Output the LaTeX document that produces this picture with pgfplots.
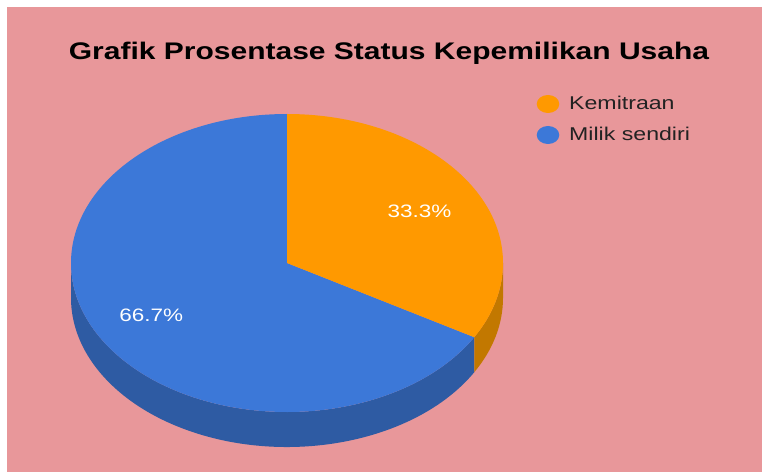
\documentclass[border=0pt]{standalone}
\usepackage{fontspec}
\setmainfont{Liberation Sans}
\newfontfamily\chartfont[FakeStretch=1.25]{Liberation Sans}
\usepackage{pgfplots}
\usepackage{pgfplotstable}
\pgfplotsset{compat=1.18}
\definecolor{bgpink}{HTML}{E8979A}
\definecolor{orangeT}{HTML}{FF9900}
\definecolor{orangeS}{HTML}{C27800}
\definecolor{blueT}{HTML}{3C78D8}
\definecolor{blueS}{HTML}{2E5BA3}
\definecolor{legtext}{HTML}{222222}
\pgfplotstableread{
label value
Kemitraan 33.3
Milik 66.7
}\piedata
\begin{document}
\begin{tikzpicture}
\pgfplotstablegetelem{0}{value}\of\piedata \let\va\pgfplotsretval
\pgfplotstablegetelem{1}{value}\of\piedata \let\vb\pgfplotsretval
\pgfmathsetmacro\angA{90-360*\va/(\va+\vb)}
\pgfmathsetmacro\angB{\angA+360}
\begin{axis}[
  width=762pt, height=472pt, scale only axis,
  xmin=0, xmax=762, ymin=0, ymax=472,
  enlargelimits=false, hide axis, clip=false]
% background
\fill[white] (axis cs:0,0) rectangle (axis cs:762,472);
\fill[bgpink] (axis cs:7,0) rectangle (axis cs:762,465);
% sides
\fill[blueS] (axis cs:71,209) arc[start angle=180,end angle=\angB,x radius=216pt,y radius=149pt]
   -- ++(0,-35pt) arc[start angle=\angB,end angle=180,x radius=216pt,y radius=149pt] -- cycle;
\fill[orangeS] (axis cs:503,209) arc[start angle=360,end angle=\angB,x radius=216pt,y radius=149pt]
   -- ++(0,-35pt) arc[start angle=\angB,end angle=360,x radius=216pt,y radius=149pt] -- cycle;
% tops
\fill[blueT] (axis cs:287,209) -- (axis cs:287,358) arc[start angle=90,end angle=\angB,x radius=216pt,y radius=149pt] -- cycle;
\fill[orangeT] (axis cs:287,209) -- (axis cs:287,358) arc[start angle=90,end angle=\angA,x radius=216pt,y radius=149pt] -- cycle;
% labels
\node[anchor=base, white, font=\chartfont\fontsize{18}{20}\selectfont, inner sep=0] at (axis cs:419.5,255) {\va\%};
\node[anchor=base, white, font=\chartfont\fontsize{18}{20}\selectfont, inner sep=0] at (axis cs:151.3,150.3) {\vb\%};
% title
\node[anchor=base, font=\chartfont\bfseries\fontsize{24}{28}\selectfont, inner sep=0] at (axis cs:389,412.5) {Grafik Prosentase Status Kepemilikan Usaha};
% legend
\fill[orangeT] (axis cs:548,368) ellipse[x radius=11.3pt, y radius=9pt];
\fill[blueT] (axis cs:548,337) ellipse[x radius=11.3pt, y radius=9pt];
\node[anchor=base west, legtext, font=\chartfont\fontsize{18.5}{20}\selectfont, inner sep=0] at (axis cs:569,362) {Kemitraan};
\node[anchor=base west, legtext, font=\chartfont\fontsize{18.5}{20}\selectfont, inner sep=0] at (axis cs:569,331.5) {Milik sendiri};
\end{axis}
\end{tikzpicture}
\end{document}
